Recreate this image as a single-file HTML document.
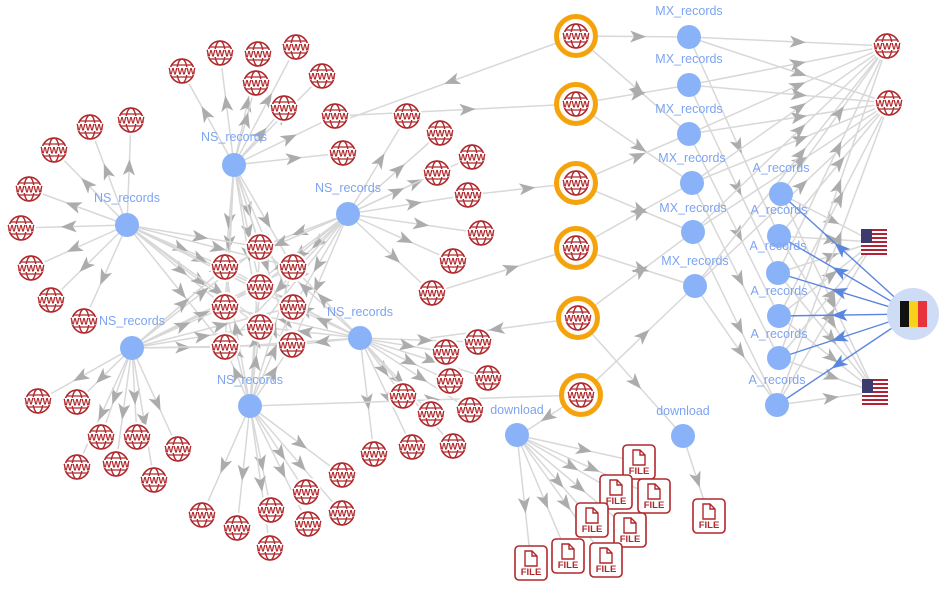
<!DOCTYPE html>
<html><head><meta charset="utf-8"><style>
html,body{margin:0;padding:0;background:#fff;}
svg{display:block;font-family:"Liberation Sans",sans-serif;}
</style></head><body>
<svg id="s" width="949" height="591" viewBox="0 0 949 591" xmlns="http://www.w3.org/2000/svg">
<g id="edges"></g><g id="nodes"></g><g id="labels"></g>
</svg>
<script>
const NS="http://www.w3.org/2000/svg";
const E=document.getElementById('edges'),N=document.getElementById('nodes'),L=document.getElementById('labels');
function el(p,t,a,txt){const e=document.createElementNS(NS,t);for(const k in a)e.setAttribute(k,a[k]);if(txt!==undefined)e.textContent=txt;p.appendChild(e);return e;}
function edge(a,b,col,w){col=col||'#d8d8d8';w=w||1.5;
 el(E,'line',{x1:a[0],y1:a[1],x2:b[0],y2:b[1],stroke:col,'stroke-width':w});
 const dx=b[0]-a[0],dy=b[1]-a[1];const t=0.55;
 const x=a[0]+dx*t,y=a[1]+dy*t,ang=Math.atan2(dy,dx)*180/Math.PI;
 const fc=col=='#d8d8d8'?'#acacac':'#5b86e0';
 el(E,'polygon',{points:'8,0 -8,-6 -4,0 -8,6',fill:fc,transform:`translate(${x},${y}) rotate(${ang})`});}
function www(x,y){const g=el(N,'g',{transform:`translate(${x},${y})`});
 el(g,'circle',{r:15,fill:'#fff'});
 el(g,'circle',{r:12,fill:'none',stroke:'#b0282c','stroke-width':1.6});
 el(g,'ellipse',{rx:5,ry:12,fill:'none',stroke:'#b0282c','stroke-width':1.4});
 el(g,'line',{x1:-10,y1:-6,x2:10,y2:-6,stroke:'#b0282c','stroke-width':1.3});
 el(g,'line',{x1:-10,y1:6,x2:10,y2:6,stroke:'#b0282c','stroke-width':1.3});
 el(g,'rect',{x:-12,y:-4,width:24,height:8,fill:'#fff'});
 el(g,'text',{x:0,y:3.5,'text-anchor':'middle','font-size':9.5,'font-weight':'bold',fill:'#b0282c'},'WWW');}
function orange(x,y){el(N,'circle',{cx:x,cy:y,r:19.5,fill:'#fff8ec',stroke:'#f5a30c','stroke-width':5});www(x,y);}
function blue(x,y,lab,ly){el(N,'circle',{cx:x,cy:y,r:12,fill:'#8ab2f8'});
 if(lab)el(L,'text',{x:x,y:ly+4,'text-anchor':'middle','font-size':12.5,fill:'#7ea4f0'},lab);}
function file(x,y){const g=el(N,'g',{transform:`translate(${x},${y})`});
 el(g,'rect',{x:-16,y:-17,width:32,height:34,rx:4,fill:'#fff',stroke:'#b0282c','stroke-width':1.6});
 el(g,'path',{d:'M-6,-12 h7 l5,5 v10 h-12 z M1,-12 v5 h5',fill:'none',stroke:'#b0282c','stroke-width':1.4});
 el(g,'text',{x:0,y:12,'text-anchor':'middle','font-size':9.5,'font-weight':'bold',fill:'#b0282c'},'FILE');}
function us(x,y){const g=el(N,'g',{transform:`translate(${x-13},${y-13})`});
 for(let i=0;i<7;i++)el(g,'rect',{x:0,y:i*26/6.5,width:26,height:26/13,fill:'#b22234'});
 for(let i=0;i<6;i++)el(g,'rect',{x:0,y:i*4+2,width:26,height:2,fill:'#fff'});
 el(g,'rect',{x:0,y:0,width:11,height:14,fill:'#3c3b6e'});}
const orangeP=[[576,36],[576,104],[576,183],[576,248],[578,318],[581,395]];
const mx=[[689,37,11],[689,85,59],[689,134,109],[692,183,158],[693,232,208],[695,286,261]];
const A=[[781,194,168],[779,236,210],[778,273,246],[779,316,291],[779,358,334],[777,405,380]];
const rw=[[887,46],[889,103]];const us1=[874,242],us2=[875,392],be=[913,314];
const dl=[[517,435,410],[683,436,411]];
const files=[[639,462],[616,492],[654,496],[592,520],[630,530],[531,563],[568,556],[606,560]];
const ns=[[234,165,137],[127,225,198],[348,214,188],[132,348,321],[360,338,312],[250,406,380]];
const groups=[
 [[220,53],[258,54],[296,47],[182,71],[256,83],[322,76],[284,108],[335,116],[343,153]],
 [[131,120],[90,127],[54,150],[29,189],[21,228],[31,268],[51,300],[84,321]],
 [[407,116],[440,133],[472,157],[437,173],[468,195],[481,233],[453,261],[432,293]],
 [[38,401],[77,402],[101,437],[137,437],[178,449],[77,467],[116,464],[154,480]],
 [[478,342],[446,352],[488,378],[450,381],[403,396],[431,414],[470,410],[453,446],[412,447],[374,454]],
 [[342,475],[306,492],[271,510],[342,513],[202,515],[237,528],[308,524],[270,548]]];
const center=[[260,247],[225,267],[293,267],[260,287],[225,307],[293,307],[260,327],[225,347],[292,345]];
groups.forEach((g,i)=>g.forEach(p=>edge(ns[i],p)));
ns.forEach(n=>center.forEach(c=>edge(n,c)));
orangeP.forEach((o,i)=>{edge(o,mx[i]);if(i+2<6)edge(o,mx[i+2]);});
edge(orangeP[0],[350,118]);edge([335,116],orangeP[1]);edge([468,195],orangeP[2]);edge([432,293],orangeP[3]);
edge(orangeP[4],[430,338]);edge(ns[5],orangeP[5]);edge(orangeP[5],[520,435]);edge(orangeP[4],dl[1]);
mx.forEach((m,i)=>{rw.forEach(r=>edge(m,r));edge(m,A[Math.min(i+1,5)]);});
A.forEach((a,i)=>{edge(a,us1);edge(a,us2);edge(a,rw[i%2]);});
A.forEach(a=>edge(be,a,'#5b86e0',1.4));
files.forEach(f=>edge(dl[0],f));edge(dl[1],[709,516]);
groups.flat().forEach(p=>www(p[0],p[1]));center.forEach(p=>www(p[0],p[1]));
ns.forEach(n=>blue(n[0],n[1],'NS_records',n[2]));
orangeP.forEach(o=>orange(o[0],o[1]));
mx.forEach(m=>blue(m[0],m[1],'MX_records',m[2]));
A.forEach(a=>blue(a[0],a[1],'A_records',a[2]));
rw.forEach(r=>www(r[0],r[1]));
us(us1[0],us1[1]);us(us2[0],us2[1]);
el(N,'circle',{cx:be[0],cy:be[1],r:26,fill:'#cfdcf6'});
el(N,'rect',{x:be[0]-13,y:be[1]-13,width:9,height:26,fill:'#111'});
el(N,'rect',{x:be[0]-4,y:be[1]-13,width:9,height:26,fill:'#f8d21a'});
el(N,'rect',{x:be[0]+5,y:be[1]-13,width:9,height:26,fill:'#e8333b'});
dl.forEach(d=>blue(d[0],d[1],'download',d[2]));
files.forEach(f=>file(f[0],f[1]));file(709,516);
</script>
</body></html>
